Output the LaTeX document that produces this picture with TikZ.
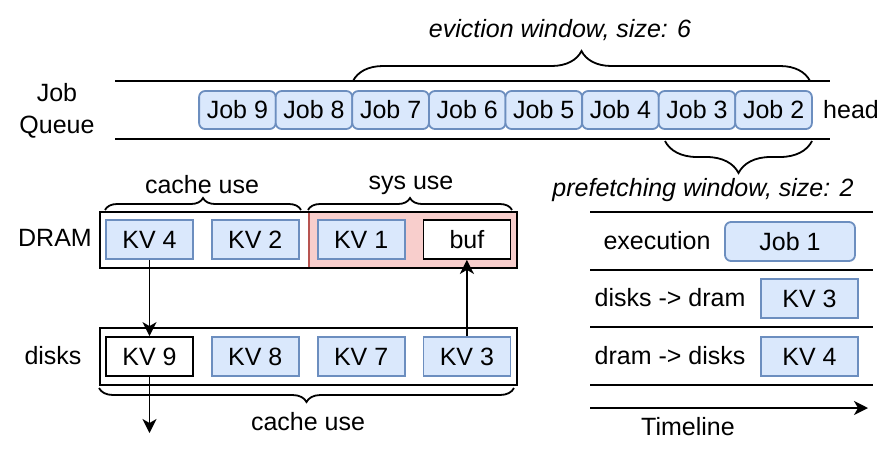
\documentclass[tikz,border=0pt]{standalone}
\usepackage{fontspec}
\setmainfont{Liberation Sans}
\usetikzlibrary{arrows.meta,positioning,decorations.pathreplacing}

\definecolor{boxblue}{HTML}{DAE8FC}
\definecolor{lineblue}{HTML}{6C8EBF}
\definecolor{sysred}{HTML}{F8CECC}
\definecolor{sysline}{HTML}{B85450}

\tikzset{
  jobbox/.style={draw=lineblue, fill=boxblue, rounded corners=3pt, minimum width=38.3pt,
    minimum height=19pt, inner sep=0pt, outer sep=0pt},
  kvbox/.style={draw=lineblue, fill=boxblue, minimum width=43.5pt, minimum height=19.5pt,
    inner sep=0pt},
  freebox/.style={draw=black, fill=white, minimum width=43.5pt, minimum height=19.5pt,
    inner sep=0pt},
  brc/.style={decorate, decoration={brace, amplitude=#1}},
  brcm/.style={decorate, decoration={brace, mirror, amplitude=#1}},
}

\begin{document}
\begin{tikzpicture}[x=0.5pt, y=-0.5pt, >={Stealth[length=7pt, width=7pt, inset=2pt]},
  line width=0.9pt, font=\fontsize{12.5}{16}\selectfont]
		\useasboundingbox (0,0) rectangle (886,462);

		% job queue
		\draw (115,81) -- (830,81);
		\draw (115,139) -- (830,139);
		\node[align=center] (jq) at (57,111) {Job\\Queue};
		\node[jobbox] (job9) at (237.4,110) {Job 9};
		\node[jobbox, right=0pt of job9] (job8) {Job 8};
		\node[jobbox, right=0pt of job8] (job7) {Job 7};
		\node[jobbox, right=0pt of job7] (job6) {Job 6};
		\node[jobbox, right=0pt of job6] (job5) {Job 5};
		\node[jobbox, right=0pt of job5] (job4) {Job 4};
		\node[jobbox, right=0pt of job4] (job3) {Job 3};
		\node[jobbox, right=0pt of job3] (job2) {Job 2};
		\node (head) at (851,110) {head};

		\draw[brc=15pt] (353,81) -- (810,81);
		\node[font=\fontsize{12.5}{16}\itshape] (evict) at (560,30) {eviction window, size: 6};
		\draw[brcm=16pt] (665,141) -- (812,141);
		\node[font=\fontsize{12.5}{16}\itshape] (prefetch) at (703,190) {prefetching window, size: 2};

		% dram and disks
		\draw[draw=sysline, fill=sysred] (309,212) rectangle (517,268);
		\draw (100,212) rectangle (517,268);
		\draw (100,328) rectangle (517,385);
		\node (dram) at (55,238) {DRAM};
		\node (disks) at (53,356) {disks};

		\node[kvbox] (kv4) at (149.5,239.5) {KV 4};
		\node[kvbox, right=8.5pt of kv4] (kv2) {KV 2};
		\node[kvbox, right=8.5pt of kv2] (kv1) {KV 1};
		\node[freebox, right=8.5pt of kv1] (buf) {buf};

		\node[freebox] (kv9) at (149.5,356.5) {KV 9};
		\node[kvbox, right=8.5pt of kv9] (kv8) {KV 8};
		\node[kvbox, right=8.5pt of kv8] (kv7) {KV 7};
		\node[kvbox, right=8.5pt of kv7] (kv3) {KV 3};

		\draw[brc=6pt] (105,210) -- (301,210);
		\node (cacheup) at (202,185) {cache use};
		\draw[brc=6pt] (308,210) -- (512,210);
		\node (sysuse) at (411,185) {sys use};
		\draw[brcm=7pt] (99,388) -- (514,388);
		\node (cachelow) at (308,422) {cache use};

		\coordinate (out) at (149.5,433);
		\draw[->] (kv4) -- (kv9);
		\draw[->] (kv9) -- (out);
		\draw[->] (kv3) -- (buf);

		% timeline
		\draw (590,212) -- (873,212);
		\draw (590,270) -- (873,270);
		\draw (590,327) -- (873,327);
		\draw (590,385) -- (873,385);
		\node (exec) at (657,241) {execution};
		\node[jobbox, minimum width=65pt, minimum height=19.5pt] (job1) at (790,241.5) {Job 1};
		\node (d2d) at (670,298) {disks -> dram};
		\node[kvbox, minimum width=48.5pt] (tkv3) at (809.5,298.5) {KV 3};
		\node (d2k) at (670,356) {dram -> disks};
		\node[kvbox, minimum width=48.5pt] (tkv4) at (809.5,356.5) {KV 4};

		\coordinate (tl0) at (590,408);
		\coordinate (tl1) at (868,408);
		\draw[->] (tl0) -- (tl1);
		\node (timeline) at (688,427) {Timeline};

\end{tikzpicture}
\end{document}
